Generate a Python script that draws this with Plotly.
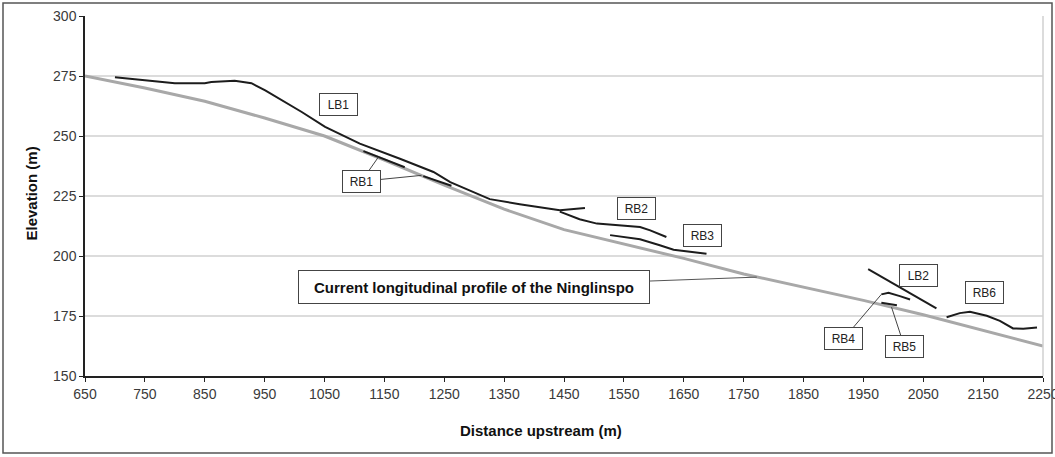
import plotly.graph_objects as go

# ---- data ----
profile_x = [650, 750, 850, 950, 1050, 1150, 1250, 1350, 1450, 1550, 1650, 1750, 1850, 1950, 2050, 2150, 2250]
profile_y = [275, 270, 264.5, 257.5, 250, 240, 229.5, 219.5, 211, 205, 199, 192.5, 187, 181.5, 175.5, 169, 162.5]

lb1_x = [700, 750, 800, 850, 861, 900, 928, 951, 984, 1012, 1051, 1109, 1176, 1232, 1260, 1298, 1326, 1376, 1443, 1485]
lb1_y = [274.5, 273.3, 272, 272, 272.5, 273, 272, 269, 264.2, 260, 253.8, 246.8, 240.5, 235, 230.8, 226.6, 223.7, 221.6, 219.1, 220]

rb1a_x = [1115, 1184]
rb1a_y = [243.7, 237]
rb1b_x = [1215, 1262]
rb1b_y = [233.3, 229.3]

rb2_x = [1443, 1476, 1505, 1577, 1594, 1621]
rb2_y = [218.5, 215.3, 213.5, 212.1, 210.7, 207.9]

rb3_x = [1527, 1577, 1610, 1633, 1688]
rb3_y = [208.7, 207, 204.5, 202.6, 200.9]

lb2_x = [1958, 2072]
lb2_y = [194.5, 178.2]

rb4_x = [1980, 1992, 2011, 2028]
rb4_y = [184, 184.7, 183.3, 181.9]

rb5_x = [1980, 2006]
rb5_y = [180.5, 179.5]

rb6_x = [2089, 2111, 2128, 2156, 2178, 2200, 2217, 2240]
rb6_y = [174.5, 176.2, 176.8, 175.1, 173, 169.8, 169.7, 170.2]

x_ticks = list(range(650, 2251, 100))
y_ticks = [150, 175, 200, 225, 250, 275, 300]

# label name, box centre (x, y), leader tips
labels = [
    ("LB1", 1073, 263.2, []),
    ("RB1", 1111.5, 231.1, [(1140, 241.2), (1212, 233.6)]),
    ("RB2", 1571, 219.6, []),
    ("RB3", 1682, 208.6, []),
    ("LB2", 2042, 191.7, []),
    ("RB6", 2152, 184.9, []),
    ("RB4", 1917, 165.5, [(1980, 184)]),
    ("RB5", 2018.5, 162.3, [(1997, 178.7)]),
]
profile_label = ("Current longitudinal profile of the Ninglinspo", 1300, 186.9, (1772, 191.2))

FONT = "Liberation Sans, Arial, sans-serif"
BLACK = "#1c1c1c"

fig = go.Figure()
fig.add_trace(go.Scatter(x=profile_x, y=profile_y, mode="lines",
                         line=dict(color="#a8a8a8", width=3), hoverinfo="skip"))
for xs, ys in [(lb1_x, lb1_y), (rb1a_x, rb1a_y), (rb1b_x, rb1b_y), (rb2_x, rb2_y),
               (rb3_x, rb3_y), (lb2_x, lb2_y), (rb4_x, rb4_y), (rb5_x, rb5_y), (rb6_x, rb6_y)]:
    fig.add_trace(go.Scatter(x=xs, y=ys, mode="lines",
                             line=dict(color=BLACK, width=2), hoverinfo="skip"))

annotations = []
box_common = dict(font=dict(family=FONT, size=12, color="#222"), bgcolor="white",
                  bordercolor="#444", borderwidth=1, borderpad=2, width=33, height=17)
for name, bx, by, tips in labels:
    if not tips:
        annotations.append(dict(x=bx, y=by, xref="x", yref="y", text=name,
                                showarrow=False, **box_common))
    else:
        for tx, ty in tips:
            annotations.append(dict(x=tx, y=ty, xref="x", yref="y", ax=bx, ay=by,
                                    axref="x", ayref="y", text=name, showarrow=True,
                                    arrowhead=0, arrowwidth=1, arrowcolor="#444",
                                    **box_common))

ptext, pbx, pby, (ptx, pty) = profile_label
annotations.append(dict(x=ptx, y=pty, xref="x", yref="y", ax=pbx, ay=pby, axref="x", ayref="y",
                        text="<b>" + ptext + "</b>", showarrow=True, arrowhead=0,
                        arrowwidth=1, arrowcolor="#555",
                        font=dict(family=FONT, size=15, color="#111"), bgcolor="white",
                        bordercolor="#444", borderwidth=1, borderpad=3, width=344, height=26))

# axis titles
annotations.append(dict(x=(541 - 85) / 958, y=(376 - 441) / 360, xref="paper", yref="paper",
                        text="<b>Distance upstream (m)</b>", showarrow=False,
                        font=dict(family=FONT, size=15, color="#111")))
annotations.append(dict(x=(20 - 85) / 958, y=(376 - 194) / 360, xref="paper", yref="paper",
                        text="<b>Elevation (m)</b>", showarrow=False, textangle=-90,
                        font=dict(family=FONT, size=15, color="#111")))

shapes = [
    # right edge of plot area
    dict(type="line", xref="paper", yref="paper", x0=1, x1=1, y0=0, y1=1,
         line=dict(color="#d0d0d0", width=1.5)),
    # outer frame of the figure
    dict(type="rect", xref="paper", yref="paper",
         x0=(3 - 85) / 958, x1=(1052 - 85) / 958, y0=(376 - 453) / 360, y1=(376 - 3) / 360,
         line=dict(color="#555", width=1.5)),
]

fig.update_layout(
    width=1055, height=457,
    margin=dict(l=85, r=12, t=16, b=81, autoexpand=False),
    paper_bgcolor="white", plot_bgcolor="white",
    showlegend=False,
    annotations=annotations,
    shapes=shapes,
    font=dict(family=FONT, size=14, color="#333"),
)
fig.update_xaxes(range=[650, 2250], tickvals=x_ticks, showgrid=False, zeroline=False,
                 showline=True, linecolor="#222", linewidth=1.5,
                 ticks="outside", ticklen=4, tickcolor="#222", automargin=False,
                 ticklabeloverflow="allow",
                 tickfont=dict(family=FONT, size=14, color="#3a3a3a"))
fig.update_yaxes(range=[150, 300], tickvals=y_ticks, showgrid=True, gridcolor="#dcdcdc",
                 gridwidth=1.5, zeroline=False, automargin=False,
                 showline=True, linecolor="#222", linewidth=1.5,
                 ticks="outside", ticklen=4, tickcolor="#222",
                 tickfont=dict(family=FONT, size=14, color="#3a3a3a"))

fig.write_html("out.html", config={"displayModeBar": False},
               post_script="document.body.style.margin='0';document.body.style.overflow='hidden';")
